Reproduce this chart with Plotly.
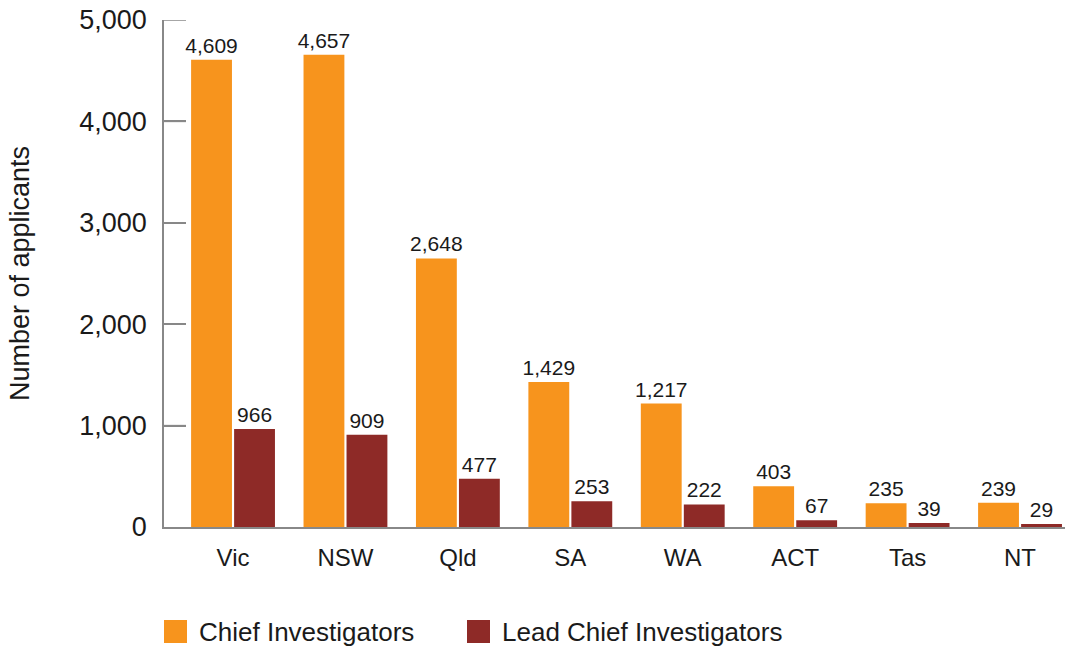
import plotly.graph_objects as go

states = ["Vic", "NSW", "Qld", "SA", "WA", "ACT", "Tas", "NT"]
chief = [4609, 4657, 2648, 1429, 1217, 403, 235, 239]
lead = [966, 909, 477, 253, 222, 67, 39, 29]
series_names = ["Chief Investigators", "Lead Chief Investigators"]
colors = ["#F7941D", "#8E2A27"]
y_ticks = [0, 1000, 2000, 3000, 4000, 5000]

FONT = "Liberation Sans, Arial, sans-serif"
TXT = "#1a1a1a"
AX = "#888888"

W, H = 1065, 651
ML, MR, MT, MB = 164, 0, 20, 124
PW, PH = W - ML - MR, H - MT - MB

fig = go.Figure()
for name, vals, col in zip(series_names, [chief, lead], colors):
    fig.add_trace(go.Bar(
        x=states, y=vals, name=name, marker_color=col, marker_line_width=0,
        text=[f"{v:,}" for v in vals], textposition="outside",
        textfont=dict(family=FONT, size=21, color=TXT),
        constraintext="none", cliponaxis=False, showlegend=False,
    ))

fig.update_layout(
    width=W, height=H,
    margin=dict(l=ML, r=MR, t=MT, b=MB, autoexpand=False),
    paper_bgcolor="white", plot_bgcolor="white",
    barmode="group", bargap=0.235, bargroupgap=0.05,
    font=dict(family=FONT, color=TXT),
    showlegend=False,
)
fig.update_xaxes(
    range=[-0.614, 7.40], showgrid=False, showline=True, linecolor=AX,
    linewidth=2, ticks="", tickfont=dict(size=24, color=TXT),
    ticklabelstandoff=8, automargin=False,
)
fig.update_yaxes(
    range=[0, 5000], tickvals=y_ticks, tickformat=",", showgrid=False,
    showline=True, linecolor=AX, linewidth=1.5,
    ticks="inside", ticklen=22, tickcolor=AX, tickwidth=1.5,
    tickfont=dict(size=27, color=TXT), ticklabelstandoff=10,
    ticklabeloverflow="allow",
    title=dict(text="Number of applicants", font=dict(size=27, color=TXT), standoff=42),
    zeroline=False, automargin=False,
)

# inside tick marks (drawn as short lines at each tick value)
for v in y_ticks[1:]:
    fig.add_shape(type="line", xref="paper", yref="y", x0=0, x1=22 / PW, y0=v, y1=v,
                  line=dict(color=AX, width=1.5), layer="above")

# legend drawn manually
leg_x = [164, 467]
for i, (name, col) in enumerate(zip(series_names, colors)):
    top = 620 - (H - MB)
    fig.add_shape(type="rect", xref="paper", yref="paper",
                  x0=(leg_x[i] - ML) / PW, x1=(leg_x[i] + 23 - ML) / PW,
                  y0=-(top + 23) / PH, y1=-top / PH,
                  fillcolor=col, line_width=0)
    fig.add_annotation(xref="paper", yref="paper",
                       x=(leg_x[i] + 33 - ML) / PW, y=-(top + 12) / PH,
                       text=name, showarrow=False, xanchor="left", yanchor="middle",
                       font=dict(size=26, color=TXT))

fig.write_html("out.html", config={"displayModeBar": False},
               post_script="document.body.style.margin='0px';")
